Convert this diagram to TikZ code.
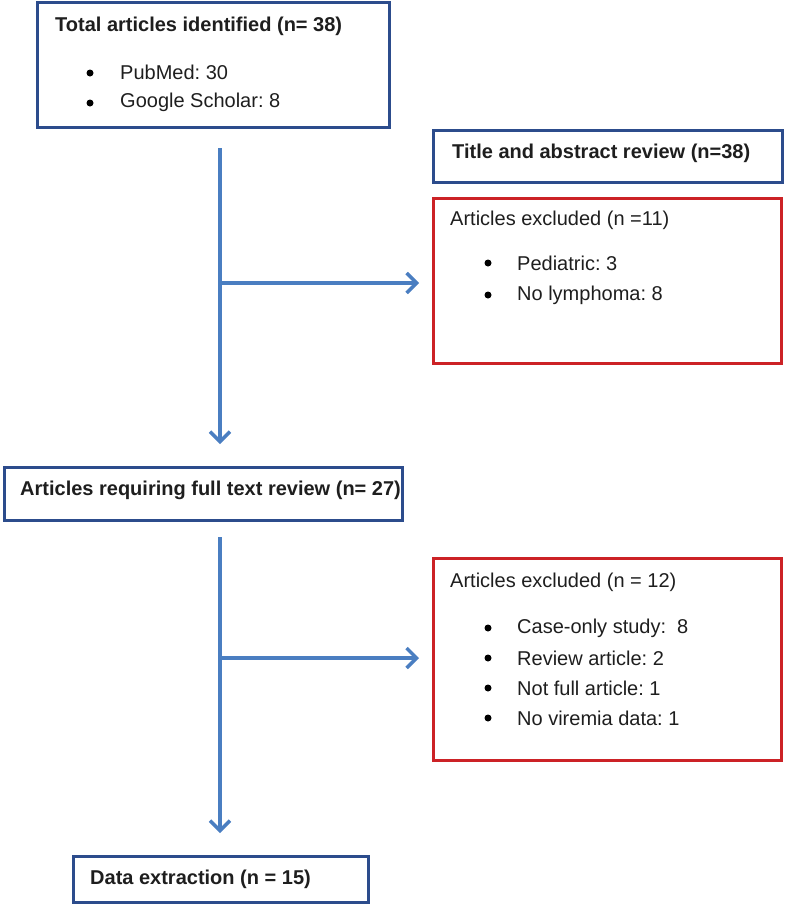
\documentclass[tikz,border=0pt]{standalone}
\usepackage{fontspec}
\setmainfont{Liberation Sans}
\usetikzlibrary{arrows.meta}
\frenchspacing
\definecolor{boxblue}{RGB}{44,76,140}
\definecolor{boxred}{RGB}{204,34,38}
\definecolor{arrblue}{RGB}{74,126,193}
\definecolor{txt}{RGB}{30,30,30}
\tikzset{
  bluebox/.style={draw=boxblue, line width=3pt, rectangle, inner sep=0pt},
  redbox/.style={draw=boxred, line width=3pt, rectangle, inner sep=0pt},
  ttl/.style={anchor=west, inner sep=0pt, font=\fontsize{20}{24}\selectfont\bfseries, text=txt},
  plain/.style={anchor=west, inner sep=0pt, font=\fontsize{20}{24}\selectfont, text=txt},
  bul/.style={circle, fill=black, inner sep=0pt, minimum size=7pt},
  flow/.style={draw=arrblue, line width=3.5pt, -{Straight Barb[length=10pt,width=20pt,line width=3.5pt]}},
}
\begin{document}
\begin{tikzpicture}[x=1pt,y=-1pt]
\useasboundingbox (0,0) rectangle (786,905);
% boxes
\node[bluebox, minimum width=352pt, minimum height=125pt] (total) at (213,65) {};
\node[bluebox, minimum width=349pt, minimum height=52pt] (title) at (607.5,156) {};
\node[redbox, minimum width=348pt, minimum height=165pt] (exc1) at (607,281) {};
\node[bluebox, minimum width=398pt, minimum height=53pt] (full) at (203,494) {};
\node[redbox, minimum width=348pt, minimum height=202pt] (exc2) at (607,659) {};
\node[bluebox, minimum width=295pt, minimum height=46pt] (data) at (220.5,879) {};
% texts
\node[ttl] (t1) at (55,26) {Total articles identified (n= 38)};
\node[bul] (b11) at (90,73) {};
\node[plain] (t11) at (120,72) {PubMed: 30};
\node[bul] (b12) at (90,103) {};
\node[plain] (t12) at (120,102) {Google Scholar: 8};
\node[ttl] (t2) at (452,153) {Title and abstract review (n=38)};
\node[plain] (t3) at (450,220) {Articles excluded (n =11)};
\node[bul] (b31) at (488,263) {};
\node[plain] (t31) at (517,263) {Pediatric: 3};
\node[bul] (b32) at (488,295) {};
\node[plain] (t32) at (517,295) {No lymphoma: 8};
\node[ttl] (t4) at (20,490) {Articles requiring full text review (n= 27)};
\node[plain] (t5) at (450,582) {Articles excluded (n = 12)};
\node[bul] (b51) at (488,628) {};
\node[plain] (t51) at (517,628) {Case-only study:\ \ 8};
\node[bul] (b52) at (488,658) {};
\node[plain] (t52) at (517,658) {Review article: 2};
\node[bul] (b53) at (488,688) {};
\node[plain] (t53) at (517,688) {Not full article: 1};
\node[bul] (b54) at (488,718) {};
\node[plain] (t54) at (517,718) {No viremia data: 1};
\node[ttl] (t6) at (90,879) {Data extraction (n = 15)};
% connectors
\coordinate (a1s) at (220,148);
\coordinate (a1e) at (220,444);
\coordinate (a1j) at (220,283);
\coordinate (a1h) at (419,283);
\coordinate (a2s) at (220,537);
\coordinate (a2e) at (220,833);
\coordinate (a2j) at (220,658);
\coordinate (a2h) at (419,658);
\draw[flow] (a1s) -- (a1e);
\draw[flow] (a1j) -- (a1h);
\draw[flow] (a2s) -- (a2e);
\draw[flow] (a2j) -- (a2h);
\end{tikzpicture}
\end{document}
